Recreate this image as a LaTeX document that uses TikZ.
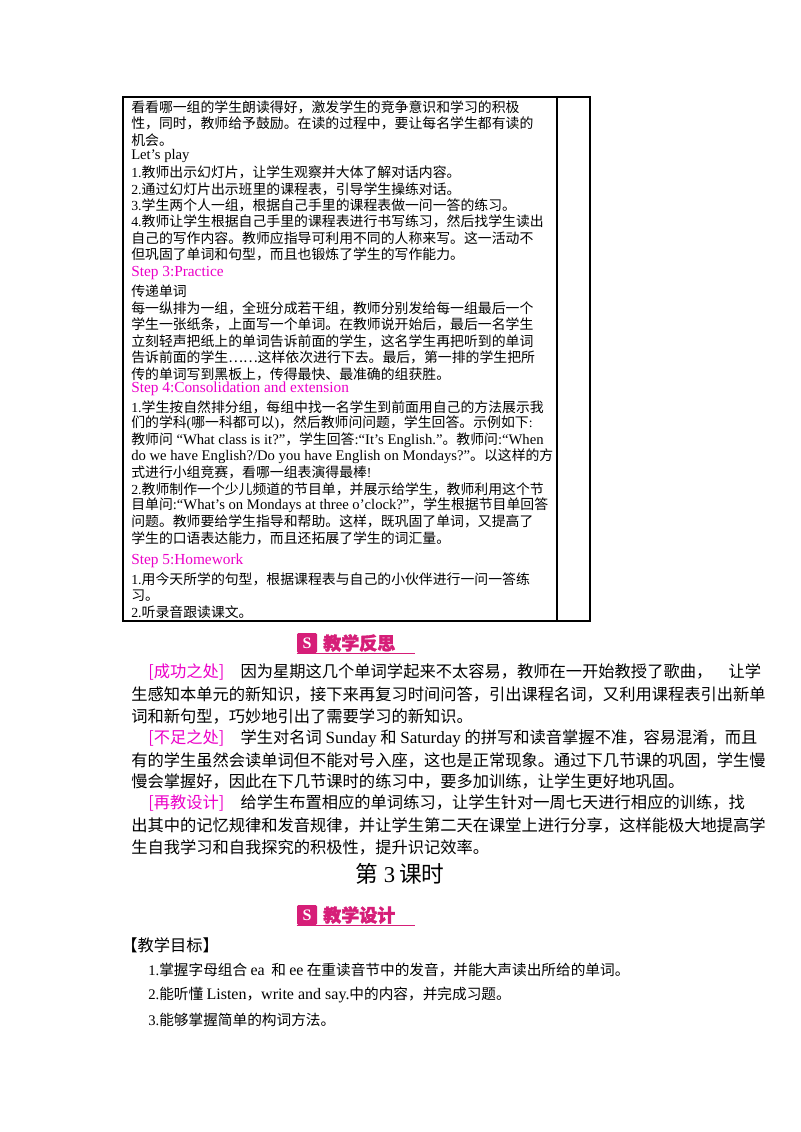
\documentclass[tikz,border=0pt]{standalone}
\usepackage{fontspec}
\setmainfont{Noto Sans CJK SC}
\newfontfamily\en{Liberation Serif}
\definecolor{stepc}{RGB}{236,0,200}
\definecolor{badge}{RGB}{214,30,120}
\newcounter{ln}
\newcommand{\T}[3]{\stepcounter{ln}\node[txt] (l\theln) at (#1,#2) {#3};}
\newcommand{\E}[1]{{\en\fontsize{11}{13}\selectfont #1}}
\newcommand{\B}[2]{%
  \node[fill=badge,minimum width=15pt,minimum height=15pt,inner sep=0,rounded corners=1pt] (#1s) at (307,#2) {\color{white}\en\bfseries\large S};
  \node[anchor=west,inner sep=0,text=badge,font=\fontsize{13.5}{15}\selectfont\bfseries] (#1t) at (323,#2) {\addfontfeature{FakeBold=2}#1};
  \draw[badge,line width=0.6pt] (#1s.south west) -- ++(118,0) coordinate (#1e);}
\begin{document}
\begin{tikzpicture}[x=0.75pt,y=-0.75pt,
  txt/.style={anchor=west,inner sep=0,font=\fontsize{10.4}{13}\selectfont},
  big/.style={anchor=west,inner sep=0,font=\fontsize{12.2}{14}\selectfont},
  stp/.style={text=stepc}]
\path[use as bounding box,fill=white] (0,0) rectangle (800,1132);
% table
\draw[line width=0.8pt] (123,97) coordinate (tl) rectangle (590,621) coordinate (br);
\draw[line width=0.8pt] (557,97) coordinate (mt) -- (557,621) coordinate (mb);
\T{131}{107}{看看哪一组的学生朗读得好，激发学生的竞争意识和学习的积极}
\T{131}{123}{性，同时，教师给予鼓励。在读的过程中，要让每名学生都有读的}
\T{131}{140}{机会。}
\T{131}{156}{\E{Let’s play}}
\T{131}{172}{{\en 1.}教师出示幻灯片，让学生观察并大体了解对话内容。}
\T{131}{189}{{\en 2.}通过幻灯片出示班里的课程表，引导学生操练对话。}
\T{131}{205}{{\en 3.}学生两个人一组，根据自己手里的课程表做一问一答的练习。}
\T{131}{221}{{\en 4.}教师让学生根据自己手里的课程表进行书写练习，然后找学生读出}
\T{131}{238}{自己的写作内容。教师应指导可利用不同的人称来写。这一活动不}
\T{131}{254}{但巩固了单词和句型，而且也锻炼了学生的写作能力。}
\T{131}{273}{\color{stepc}\en\fontsize{11.5}{13}\selectfont Step 3:Practice}
\T{131}{291}{传递单词}
\T{131}{308}{每一纵排为一组，全班分成若干组，教师分别发给每一组最后一个}
\T{131}{324}{学生一张纸条，上面写一个单词。在教师说开始后，最后一名学生}
\T{131}{341}{立刻轻声把纸上的单词告诉前面的学生，这名学生再把听到的单词}
\T{131}{357}{告诉前面的学生……这样依次进行下去。最后，第一排的学生把所}
\T{131}{374}{传的单词写到黑板上，传得最快、最准确的组获胜。}
\T{131}{389}{\color{stepc}\en\fontsize{11.5}{13}\selectfont Step 4:Consolidation and extension}
\T{131}{407}{{\en 1.}学生按自然排分组，每组中找一名学生到前面用自己的方法展示我}
\T{131}{423}{们的学科{\en (}哪一科都可以{\en )}，然后教师问问题，学生回答。示例如下{\en :}}
\T{131}{440}{教师问\E{ “What class is it?”}，学生回答\E{:“It’s English.”}。教师问\E{:“When}}
\T{131}{456}{\E{do we have English?/Do you have English on Mondays?”}。以这样的方}
\T{131}{472}{式进行小组竞赛，看哪一组表演得最棒{\en !}}
\T{131}{489}{{\en 2.}教师制作一个少儿频道的节目单，并展示给学生，教师利用这个节}
\T{131}{505}{目单问\E{:“What’s on Mondays at three o’clock?”}，学生根据节目单回答}
\T{131}{521}{问题。教师要给学生指导和帮助。这样，既巩固了单词，又提高了}
\T{131}{538}{学生的口语表达能力，而且还拓展了学生的词汇量。}
\T{131}{561}{\color{stepc}\en\fontsize{11.5}{13}\selectfont Step 5:Homework}
\T{131}{579}{{\en 1.}用今天所学的句型，根据课程表与自己的小伙伴进行一问一答练}
\T{131}{596}{习。}
\T{131}{612}{{\en 2.}听录音跟读课文。}
% reflection
\B{教学反思}{643}
\tikzset{txt/.style=big}
\T{148}{672}{{\color{stepc}[成功之处]}\quad 因为星期这几个单词学起来不太容易，教师在一开始教授了歌曲，\quad 让学}
\T{131}{694}{生感知本单元的新知识，接下来再复习时间问答，引出课程名词，又利用课程表引出新单}
\T{131}{716}{词和新句型，巧妙地引出了需要学习的新知识。}
\T{148}{738}{{\color{stepc}[不足之处]}\quad 学生对名词 {\en\fontsize{12.8}{14}\selectfont Sunday} 和 {\en\fontsize{12.8}{14}\selectfont Saturday} 的拼写和读音掌握不准，容易混淆，而且}
\T{131}{760}{有的学生虽然会读单词但不能对号入座，这也是正常现象。通过下几节课的巩固，学生慢}
\T{131}{781}{慢会掌握好，因此在下几节课时的练习中，要多加训练，让学生更好地巩固。}
\T{148}{803}{{\color{stepc}[再教设计]}\quad 给学生布置相应的单词练习，让学生针对一周七天进行相应的训练，找}
\T{131}{825}{出其中的记忆规律和发音规律，并让学生第二天在课堂上进行分享，这样能极大地提高学}
\T{131}{847}{生自我学习和自我探究的积极性，提升识记效率。}
\node[inner sep=0,font=\fontsize{17}{19}\selectfont] (title) at (400,874) {第{\en\ 3\,}课时};
\B{教学设计}{915}
\T{121}{945}{【教学目标】}
\tikzset{txt/.style={anchor=west,inner sep=0,font=\fontsize{11}{13}\selectfont}}
\T{148}{970}{{\en 1.}掌握字母组合 {\en\fontsize{12}{13}\selectfont ea}\ \ 和 {\en\fontsize{12}{13}\selectfont ee} 在重读音节中的发音，并能大声读出所给的单词。}
\T{148}{995}{{\en 2.}能听懂 {\en\fontsize{12}{13}\selectfont Listen}，{\en\fontsize{12}{13}\selectfont write and say.}中的内容，并完成习题。}
\T{148}{1020}{{\en 3.}能够掌握简单的构词方法。}
\end{tikzpicture}
\end{document}
